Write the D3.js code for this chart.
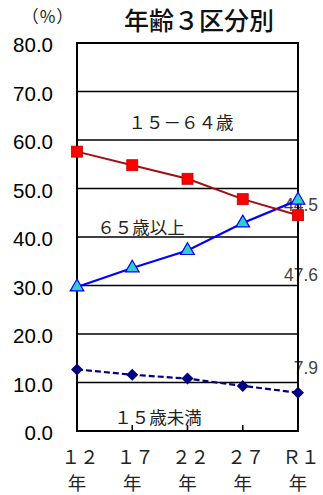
<!DOCTYPE html>
<html><head><meta charset="utf-8">
<script src="https://cdn.jsdelivr.net/npm/d3@7"></script>
<style>body{margin:0;background:#fff;}svg{display:block;}</style>
</head><body>
<script>
const categories = ["１２", "１７", "２２", "２７", "Ｒ１"];
const catSuffix = "年";
const working = [57.6, 54.8, 52.0, 47.8, 44.5];   // 15-64
const elderly = [29.7, 33.6, 37.2, 42.9, 47.6];   // 65+
const children = [12.7, 11.6, 10.8, 9.3, 7.9];    // <15
const yTicks = [0, 10, 20, 30, 40, 50, 60, 70, 80];
const endLabels = ["44.5", "47.6", "7.9"];

(function () {
const W = 323, H = 495;
const svg = d3.select("body").append("svg").attr("width", W).attr("height", H);
const pLeft = 77, pRight = 298, pTop = 43, pBottom = 431;
const x = d3.scalePoint().domain(categories).range([pLeft, pRight]);
const y = d3.scaleLinear().domain([0, 80]).range([pBottom, pTop]);
const jp = "'Noto Sans CJK JP', sans-serif";

// title
svg.append("text").attr("x", 199).attr("y", 21).attr("dy", "0.36em")
  .attr("text-anchor", "middle").attr("font-family", jp).attr("font-size", 25)
  .attr("font-weight", 500).attr("fill", "#111").text("年齢３区分別");
svg.append("text").attr("x", 48).attr("y", 17).attr("dy", "0.36em")
  .attr("text-anchor", "middle").attr("font-family", jp).attr("font-size", 17)
  .attr("letter-spacing", 1).attr("fill", "#222").text("（%）");

// gridlines
svg.append("g").selectAll("line").data(yTicks).join("line")
  .attr("x1", pLeft).attr("x2", pRight).attr("y1", d => y(d)).attr("y2", d => y(d))
  .attr("stroke", "#000").attr("stroke-width", 1.6);

// y labels
svg.append("g").selectAll("text").data(yTicks).join("text")
  .attr("x", 53).attr("y", d => y(d) + 2).attr("dy", "0.35em").attr("text-anchor", "end")
  .attr("font-family", "'Liberation Sans', Arial, sans-serif").attr("font-size", 20.5)
  .attr("fill", "#000").text(d => d.toFixed(1));

// x ticks (inward)
svg.append("g").selectAll("line").data(categories.slice(1, -1)).join("line")
  .attr("x1", d => x(d)).attr("x2", d => x(d)).attr("y1", pBottom).attr("y2", pBottom - 6)
  .attr("stroke", "#000").attr("stroke-width", 1.6);

// x labels
const xl = svg.append("g").selectAll("g").data(categories).join("g");
xl.append("text").attr("x", d => x(d) + 3).attr("y", 457).attr("dy", "0.36em")
  .attr("text-anchor", "middle").attr("font-family", jp).attr("font-size", 18.5)
  .attr("fill", "#222").text(d => d);
xl.append("text").attr("x", d => x(d)).attr("y", 483).attr("dy", "0.36em")
  .attr("text-anchor", "middle").attr("font-family", jp).attr("font-size", 18.5)
  .attr("fill", "#222").text(catSuffix);

// inner series labels
const inner = [
  {t: "１５－６４歳", x: 181, y: 123},
  {t: "６５歳以上", x: 141, y: 228},
  {t: "１５歳未満", x: 158, y: 418}
];
svg.append("g").selectAll("text").data(inner).join("text")
  .attr("x", d => d.x).attr("y", d => d.y).attr("dy", "0.36em").attr("text-anchor", "middle")
  .attr("font-family", jp).attr("font-size", 17.5).attr("fill", "#222").text(d => d.t);

// end labels
const endY = [205, 275, 368];
svg.append("g").selectAll("text").data(endLabels).join("text")
  .attr("x", 318).attr("y", (d, i) => endY[i]).attr("dy", "0.36em").attr("text-anchor", "end")
  .attr("font-family", "'Liberation Sans', Arial, sans-serif").attr("font-size", 17.5)
  .attr("fill", "#444").text(d => d);

// frame
svg.append("rect").attr("x", pLeft).attr("y", pTop).attr("width", pRight - pLeft).attr("height", pBottom - pTop)
  .attr("fill", "none").attr("stroke", "#000").attr("stroke-width", 2);

const line = d3.line().x((d, i) => x(categories[i])).y(d => y(d));

svg.append("path").attr("d", line(elderly)).attr("fill", "none").attr("stroke", "#0000ff").attr("stroke-width", 2.2);
svg.append("path").attr("d", line(working)).attr("fill", "none").attr("stroke", "#a01010").attr("stroke-width", 2);
svg.append("path").attr("d", line(children)).attr("fill", "none").attr("stroke", "#000080")
  .attr("stroke-width", 2.2).attr("stroke-dasharray", "6,3");

svg.append("g").selectAll("rect").data(working).join("rect")
  .attr("x", (d, i) => x(categories[i]) - 5.5).attr("y", d => y(d) - 5.5)
  .attr("width", 11).attr("height", 11).attr("fill", "#ff0000").attr("stroke", "#c00000").attr("stroke-width", 0.8);
const tri = d3.symbol().type(d3.symbolTriangle).size(80);
svg.append("g").selectAll("path").data(elderly).join("path")
  .attr("d", tri).attr("transform", (d, i) => `translate(${x(categories[i])},${y(d)})`)
  .attr("fill", "#33cccc").attr("stroke", "#0000ff").attr("stroke-width", 1.2);
svg.append("g").selectAll("path").data(children).join("path")
  .attr("d", "M0,-6L6,0L0,6L-6,0Z").attr("transform", (d, i) => `translate(${x(categories[i])},${y(d)})`)
  .attr("fill", "#000080");
})();
</script>
</body></html>
